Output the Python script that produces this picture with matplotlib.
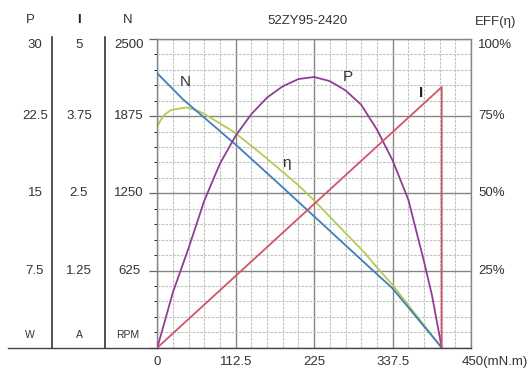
"""
Motor performance curve for 52ZY95-2420: speed, current, power and
efficiency plotted against torque, with the scale columns on the left.
"""

import matplotlib
matplotlib.use("Agg")
import matplotlib.pyplot as plt
from matplotlib.lines import Line2D
from matplotlib import transforms

plt.rcParams['font.family'] = ['Liberation Sans', 'DejaVu Sans']

torque_n = [0, 37, 113, 176, 298, 337.5, 408]
speed_rpm = [2221, 2010, 1641, 1318, 684, 480, 0]

torque_eff = [0, 5, 11, 20, 42, 55, 66, 109, 148, 202, 224, 298, 312, 337.5, 408]
eff_pct = [71.5, 73.8, 75.6, 77.0, 77.8, 77.0, 75.9, 70.0, 63.0, 52.7, 47.9, 30.6, 26.8, 20.3, 0]

torque_p = [0, 22.5, 45, 67.5, 90, 112.5, 135, 157.5, 180, 202.5, 225, 247.5,
            270, 292.5, 315, 337.5, 360, 382.5, 394, 408]
power_w = [0, 5.4, 9.7, 14.3, 17.9, 20.6, 22.7, 24.3, 25.4, 26.1, 26.3, 25.9,
           25.0, 23.6, 21.2, 18.2, 14.4, 8.4, 5.1, 0]

torque_i = [0, 408, 408]
current_a = [0, 4.22, 0]

x_ticks = [0, 112.5, 225, 337.5]
p_ticks = ["30", "22.5", "15", "7.5"]
i_ticks = ["5", "3.75", "2.5", "1.25"]
n_ticks = ["2500", "1875", "1250", "625"]
eff_ticks = ["100%", "75%", "50%", "25%"]
levels = [100, 75, 50, 25]

W, H = 532, 372
TXT = "#333333"


def fx(px):
    return px / W


def fy(py):
    return 1 - py / H


fig = plt.figure(figsize=(5.32, 3.72), dpi=100)
left, right, top, bottom = 157.3, 471, 38.9, 347.7
ax = fig.add_axes([fx(left), fy(bottom), fx(right - left), (bottom - top) / H])
ax.set_xlim(0, 450)
ax.set_ylim(0, 100)

# grid: light dashed minor, darker solid major
ax.set_xticks([0, 112.5, 225, 337.5, 450])
ax.set_xticks([i * 22.5 for i in range(21)], minor=True)
ax.set_yticks([0, 25, 50, 75, 100])
ax.set_yticks([i * 5 for i in range(21)], minor=True)
ax.grid(which='minor', color='#c4c4c4', lw=0.8, ls=(0, (2.5, 1)))
ax.grid(which='major', color='#858585', lw=1.0)
ax.set_axisbelow(True)
ax.tick_params(which='both', bottom=False, labelbottom=False, labelleft=False)
ax.tick_params(which='major', axis='y', left=True, right=True, direction='out',
               length=6, color='#666666', width=0.9)
ax.tick_params(which='minor', left=False, right=False)
for s in ax.spines.values():
    s.set_color('#858585')
    s.set_linewidth(1.0)
ax.spines['bottom'].set_color('#444444')

ax_n = ax.twinx()
ax_n.set_ylim(0, 2500)
ax_p = ax.twinx()
ax_p.set_ylim(0, 30)
ax_i = ax.twinx()
ax_i.set_ylim(0, 5)
for a in (ax_n, ax_p, ax_i):
    a.set_yticks([])
    for s in a.spines.values():
        s.set_visible(False)

ax_n.plot(torque_n, speed_rpm, color='#3f7fb8', lw=1.3)
ax.plot(torque_eff, eff_pct, color='#b4cc55', lw=1.3)
ax_p.plot(torque_p, power_w, color='#8e3f93', lw=1.3)
ax_i.plot(torque_i, current_a, color='#d2536a', lw=1.3)

ax.text(39.7, 86.1, "N", fontsize=11, color=TXT, ha='center', va='center')
ax.text(274, 87.8, "P", fontsize=11, color=TXT, ha='center', va='center')
ax.text(185.6, 59.7, "η", fontsize=11, color=TXT, ha='center', va='center')
ax.text(379, 82.4, "I", fontsize=11, color='#222222', ha='center', va='center',
        fontweight='bold')

# x labels
for t in x_ticks:
    ax.text(t, -4.5, f"{t:g}", fontsize=9.5, color=TXT, ha='center', va='center')
ax.text(450, -4.5, "450(mN.m)", fontsize=9.5, color=TXT, ha='left', va='center',
        transform=transforms.offset_copy(ax.transData, fig=fig, x=-9, y=0, units='dots'))

# right efficiency labels
right_tr = transforms.blended_transform_factory(fig.transFigure, ax.transData)
for lv, lab in zip(levels, eff_ticks):
    off = -6 if lv == 100 else 0
    ax.text(fx(478), lv, lab, fontsize=9.5, color=TXT, ha='left', va='center',
            transform=transforms.offset_copy(right_tr, fig=fig, x=0, y=off, units='dots'))

fig.text(fx(308), fy(21.5), "52ZY95-2420", fontsize=9.5, color=TXT, ha='center', va='center')
fig.text(fx(496), fy(21.5), "EFF(η)", fontsize=9.5, color=TXT, ha='center', va='center')

# scale columns on the left
col_x = [35, 79, 129]
for cx, labs in zip(col_x, [p_ticks, i_ticks, n_ticks]):
    col_tr = transforms.blended_transform_factory(fig.transFigure, ax.transData)
    for lv, lab in zip(levels, labs):
        off = -6 if lv == 100 else 0
        ax.text(fx(cx), lv, lab, fontsize=9.5, color=TXT, ha='center', va='center',
                transform=transforms.offset_copy(col_tr, fig=fig, x=0, y=off, units='dots'))

fig.text(fx(30), fy(20), "P", fontsize=9.5, color=TXT, ha='center', va='center')
fig.text(fx(79), fy(20), "I", fontsize=9.5, color='#222222', ha='center', va='center',
         fontweight='bold')
fig.text(fx(128), fy(20), "N", fontsize=9.5, color=TXT, ha='center', va='center')
fig.text(fx(30), fy(335), "W", fontsize=7.5, color=TXT, ha='center', va='center')
fig.text(fx(79), fy(335), "A", fontsize=7.5, color=TXT, ha='center', va='center')
fig.text(fx(128), fy(335), "RPM", fontsize=7.5, color=TXT, ha='center', va='center')

for lx in (52, 105):
    fig.add_artist(Line2D([fx(lx), fx(lx)], [fy(37), fy(bottom)], color='#222222', lw=1.1))
fig.add_artist(Line2D([fx(8), fx(left)], [fy(bottom), fy(bottom)], color='#444444', lw=1.0))

fig.savefig("out.png", dpi=100, facecolor='white')
